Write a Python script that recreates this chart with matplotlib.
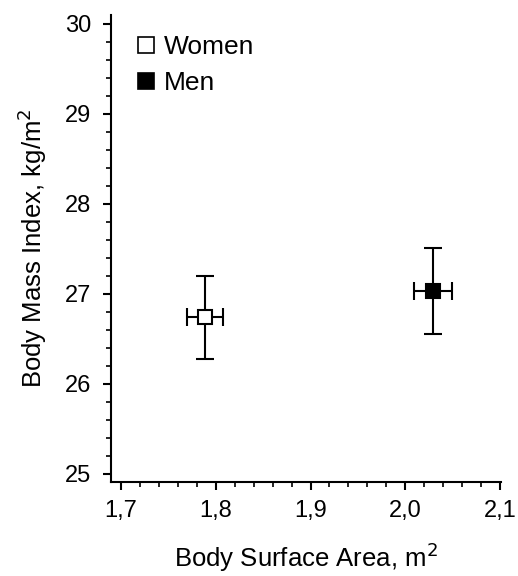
import matplotlib
matplotlib.use("Agg")
import matplotlib.pyplot as plt
from matplotlib.lines import Line2D
from matplotlib.ticker import MultipleLocator, FuncFormatter

plt.rcParams['font.family'] = ['Liberation Sans', 'DejaVu Sans']

# values
groups = ['Women', 'Men']
bsa = [1.789, 2.029]
bsa_err = [0.019, 0.020]
bmi = [26.74, 27.03]
bmi_err = [0.46, 0.48]
face = ['white', 'black']

fig = plt.figure(figsize=(5.18, 5.76), dpi=100)
ax = fig.add_axes([0.2143, 0.1632, 0.753, 0.811])

for x, xe, y, ye, fc in zip(bsa, bsa_err, bmi, bmi_err, face):
    ax.errorbar(x, y, xerr=xe, yerr=ye, fmt='none', ecolor='black',
                elinewidth=1.5, capsize=6.5, capthick=1.5, zorder=2)
    ax.plot(x, y, marker='s', markersize=10, markerfacecolor=fc,
            markeredgecolor='black', markeredgewidth=1.5, linestyle='none', zorder=3)

ax.set_xlim(1.6895, 2.101)
ax.set_ylim(24.91, 30.1)

ax.xaxis.set_major_locator(MultipleLocator(0.1))
ax.xaxis.set_minor_locator(MultipleLocator(0.02))
ax.yaxis.set_major_locator(MultipleLocator(1))
ax.yaxis.set_minor_locator(MultipleLocator(0.2))
ax.xaxis.set_major_formatter(FuncFormatter(lambda v, p: f"{v:.1f}".replace('.', ',')))
ax.yaxis.set_major_formatter(FuncFormatter(lambda v, p: f"{v:.0f}"))

for s in ['top', 'right']:
    ax.spines[s].set_visible(False)
for s in ['left', 'bottom']:
    ax.spines[s].set_linewidth(1.5)

ax.tick_params(which='major', direction='out', length=6, width=1.5, labelsize=17)
ax.tick_params(axis='y', which='major', pad=8.5)
ax.tick_params(axis='x', which='major', pad=7)
ax.tick_params(which='minor', direction='out', length=3.5, width=1.2)

ax.set_xlabel('Body Surface Area, m$^2$', fontsize=18.5, labelpad=13)
ax.set_ylabel('Body Mass Index, kg/m$^2$', fontsize=18.5, labelpad=11)

handles = [Line2D([], [], marker='s', markersize=12, markerfacecolor=fc,
                  markeredgecolor='black', markeredgewidth=1.2, linestyle='none')
           for fc in face]
ax.legend(handles, groups, loc='upper left', bbox_to_anchor=(0.062, 0.957),
          frameon=False, fontsize=19, handlelength=0.8, handletextpad=0.3,
          labelspacing=0.45, borderaxespad=0, borderpad=0)

fig.savefig('out.png', dpi=100)
